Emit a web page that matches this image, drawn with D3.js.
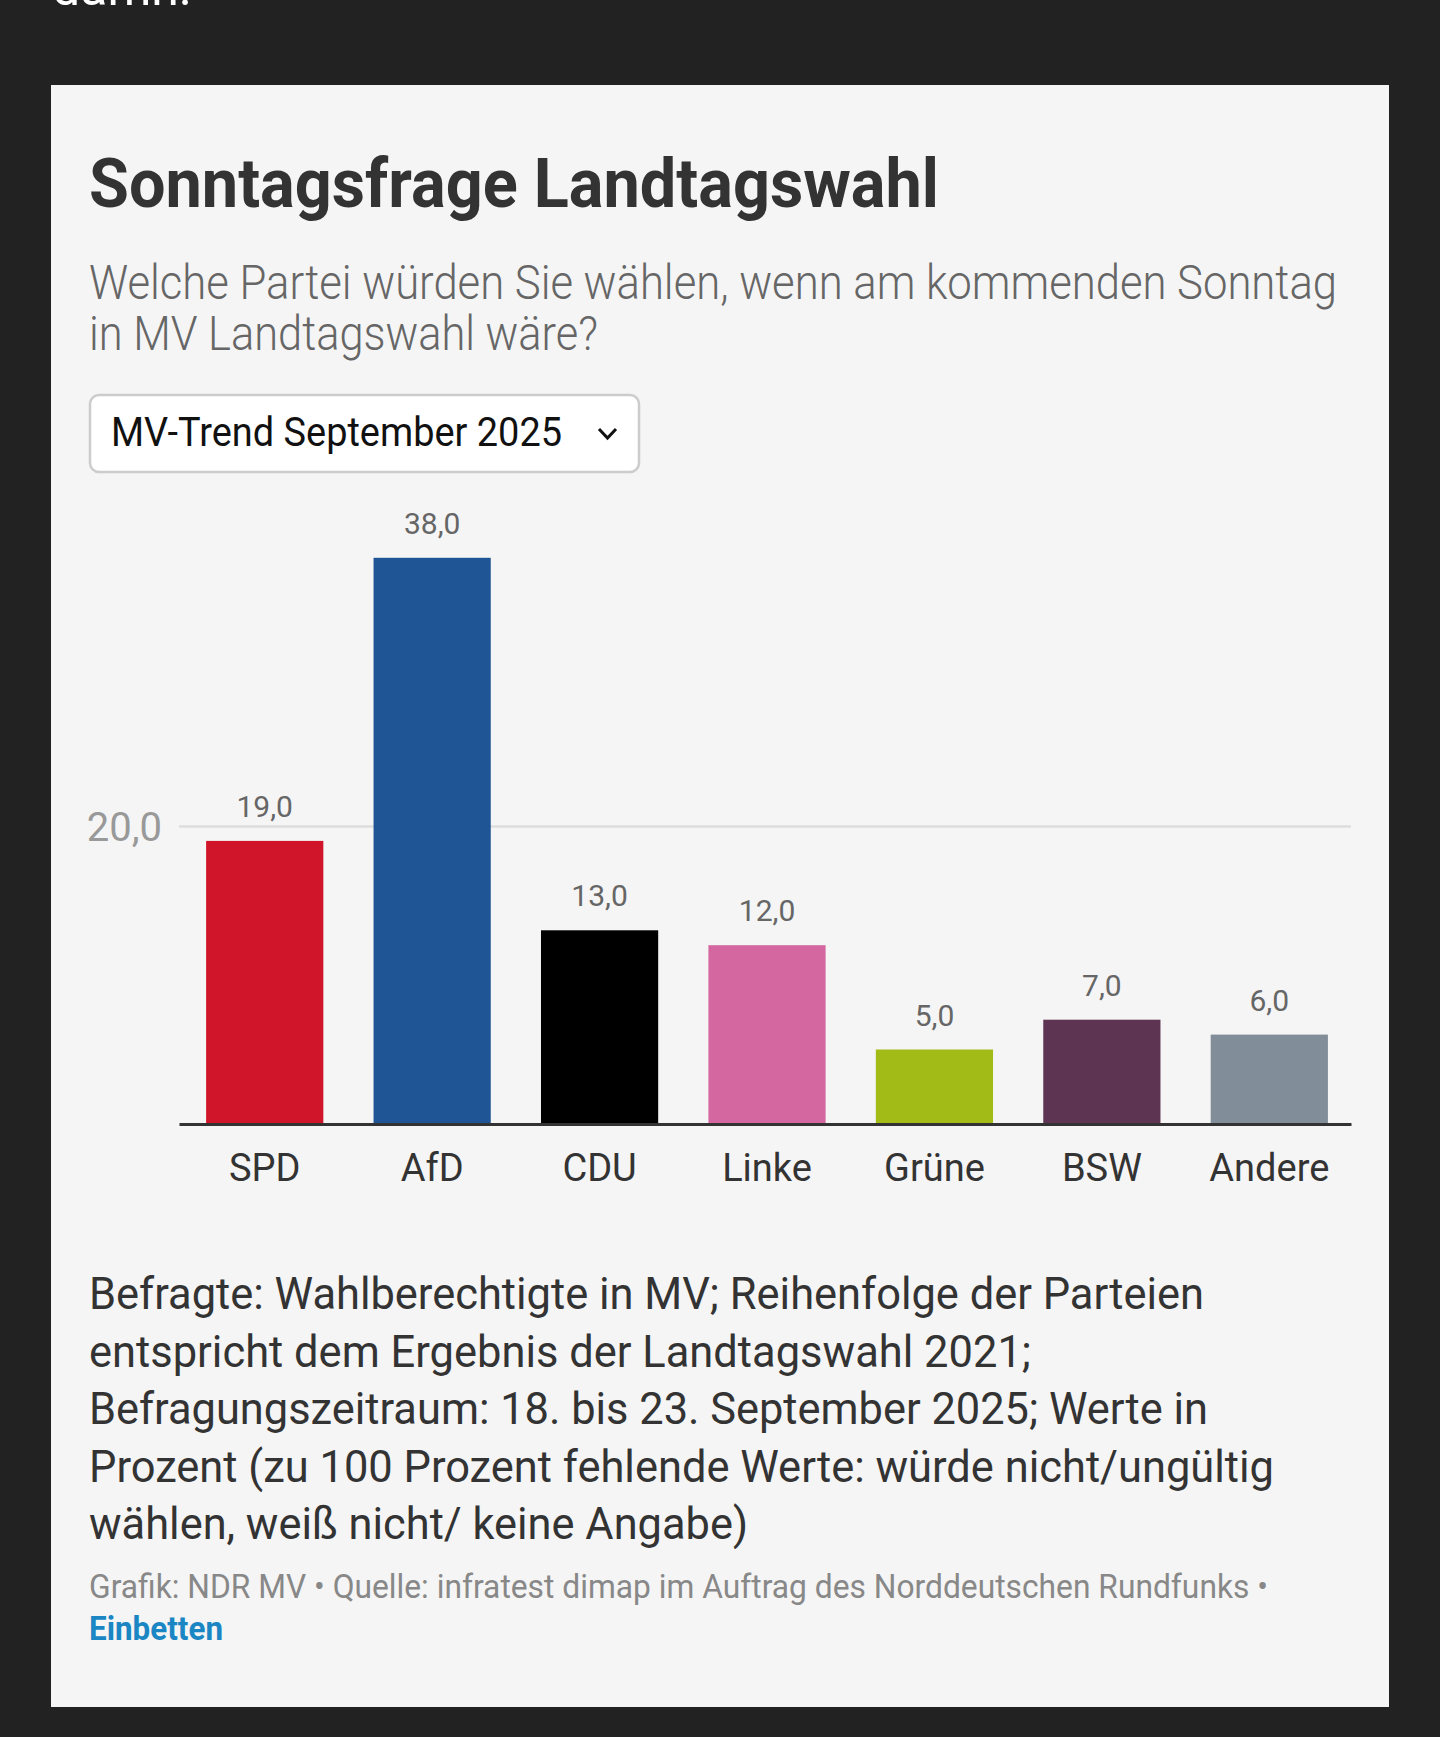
<!DOCTYPE html><html><head><meta charset="UTF-8"><script src="https://d3js.org/d3.v7.min.js"></script><style>
  body { margin: 0; background: #222222; }
  svg { display: block; font-family: Roboto, "Noto Sans", sans-serif; }
</style></head><body><div id="chart"></div><script>
const parties = ["SPD", "AfD", "CDU", "Linke", "Grüne", "BSW", "Andere"];
const values = [19, 38, 13, 12, 5, 7, 6];
const partyColors = ["#d0152a", "#1f5595", "#000000", "#d4679f", "#a2bb17", "#5d3452", "#818d98"];
const yTicks = [20];
const subtitleLines = ["Welche Partei würden Sie wählen, wenn am kommenden Sonntag", "in MV Landtagswahl wäre?"];
const noteLines = [
  "Befragte: Wahlberechtigte in MV; Reihenfolge der Parteien",
  "entspricht dem Ergebnis der Landtagswahl 2021;",
  "Befragungszeitraum: 18. bis 23. September 2025; Werte in",
  "Prozent (zu 100 Prozent fehlende Werte: würde nicht/ungültig",
  "wählen, weiß nicht/ keine Angabe)"
];

const W = 1440, H = 1737;
const fmt = v => d3.format(".1f")(v).replace(".", ",");

const svg = d3.select('#chart').append('svg')
  .attr('width', W).attr('height', H);

svg.append('rect').attr('width', W).attr('height', H).attr('fill', '#222222');

// cut-off text above the card
svg.append('text').attr('x', 52).attr('y', 5)
  .attr('font-size', 50).attr('fill', '#ffffff').text('damn.');

// card
svg.append('rect').attr('x', 51).attr('y', 85).attr('width', 1338).attr('height', 1622)
  .attr('fill', '#f5f5f5');

// title
svg.append('text').attr('x', 89).attr('y', 207)
  .attr('font-size', 68).attr('font-weight', 700).attr('fill', '#333333')
  .attr('textLength', 850).attr('lengthAdjust', 'spacingAndGlyphs')
  .text('Sonntagsfrage Landtagswahl');

// subtitle
const subW = [1248, 509];
svg.selectAll('.sub').data(subtitleLines).enter().append('text')
  .attr('class', 'sub')
  .attr('x', 89).attr('y', (d, i) => 299 + i * 51)
  .attr('font-size', 49).attr('font-weight', 300).attr('fill', '#666666')
  .attr('textLength', (d, i) => subW[i]).attr('lengthAdjust', 'spacingAndGlyphs')
  .text(d => d);

// dropdown
svg.append('rect').attr('x', 90).attr('y', 395).attr('width', 549).attr('height', 77)
  .attr('rx', 9).attr('fill', '#ffffff').attr('stroke', '#cccccc').attr('stroke-width', 2.5);
svg.append('text').attr('x', 111).attr('y', 446)
  .attr('font-size', 40).attr('fill', '#111111')
  .attr('textLength', 451).attr('lengthAdjust', 'spacingAndGlyphs')
  .text('MV-Trend September 2025');
svg.append('path').attr('d', 'M599,429 L607.5,438 L616,429')
  .attr('fill', 'none').attr('stroke', '#111111').attr('stroke-width', 3);

// chart
const x = d3.scaleBand().domain(parties).range([179, 1351])
  .paddingInner(0.3).paddingOuter(0.15).align(0.54);
const y = d3.scaleLinear().domain([0, 40]).range([1124, 528]);

const grid = svg.append('g').attr('transform', 'translate(179,0)')
  .call(d3.axisLeft(y).tickValues(yTicks).tickSize(-1172).tickPadding(17).tickFormat(fmt));
grid.select('.domain').remove();
grid.selectAll('line').attr('stroke', '#dddddd').attr('stroke-width', 2.5);
grid.selectAll('text').attr('font-size', 40).attr('fill', '#999999')
  .attr('font-family', 'Roboto, sans-serif').attr('dy', '0.35em');

svg.append('g').selectAll('rect').data(values).enter().append('rect')
  .attr('x', (d, i) => x(parties[i]))
  .attr('y', d => y(d))
  .attr('width', x.bandwidth())
  .attr('height', d => y(0) - y(d))
  .attr('fill', (d, i) => partyColors[i]);

svg.append('g').selectAll('text').data(values).enter().append('text')
  .attr('x', (d, i) => x(parties[i]) + x.bandwidth() / 2)
  .attr('y', d => y(d) - 24)
  .attr('text-anchor', 'middle')
  .attr('font-size', 30).attr('fill', '#666666')
  .text(fmt);

const xAxis = svg.append('g').attr('transform', `translate(0,${y(0)})`)
  .call(d3.axisBottom(x).tickSize(0).tickSizeOuter(0));
xAxis.select('.domain').attr('stroke', '#333333').attr('stroke-width', 3);
xAxis.selectAll('text').attr('y', 57).attr('dy', 0)
  .attr('font-size', 38).attr('fill', '#333333').attr('font-family', 'Roboto, sans-serif');

// notes
const noteW = [1115, 942, 1119, 1185, 659];
svg.selectAll('.note').data(noteLines).enter().append('text')
  .attr('class', 'note')
  .attr('x', 89).attr('y', (d, i) => 1309 + i * 57.5)
  .attr('font-size', 44).attr('fill', '#333333')
  .attr('textLength', (d, i) => noteW[i]).attr('lengthAdjust', 'spacingAndGlyphs')
  .text(d => d);

svg.append('text').attr('x', 89).attr('y', 1598)
  .attr('font-size', 33).attr('fill', '#888888')
  .attr('textLength', 1179).attr('lengthAdjust', 'spacingAndGlyphs')
  .text('Grafik: NDR MV • Quelle: infratest dimap im Auftrag des Norddeutschen Rundfunks •');

svg.append('text').attr('x', 89).attr('y', 1640)
  .attr('font-size', 33).attr('font-weight', 700).attr('fill', '#1a87c4')
  .attr('textLength', 134).attr('lengthAdjust', 'spacingAndGlyphs')
  .text('Einbetten');
</script></body></html>
